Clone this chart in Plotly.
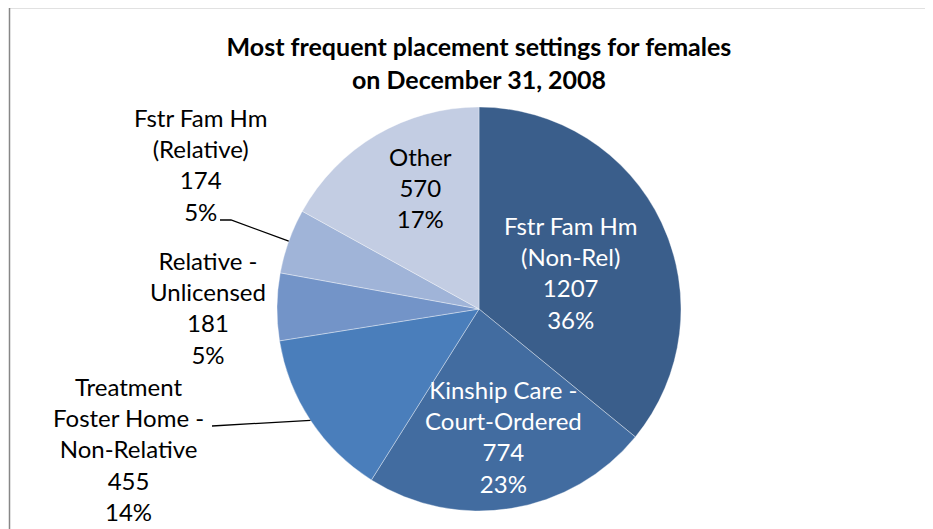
import math
import plotly.graph_objects as go

categories = ["Fstr Fam Hm<br>(Non-Rel)", "Kinship Care -<br>Court-Ordered",
              "Treatment<br>Foster Home -<br>Non-Relative", "Relative -<br>Unlicensed",
              "Fstr Fam Hm<br>(Relative)", "Other"]
values = [1207, 774, 455, 181, 174, 570]
colors = ["#3A5E8B", "#426CA0", "#4A7EBB", "#7394C8", "#A0B4D8", "#C3CDE3"]
text_colors = ["white", "white", "black", "black", "black", "black"]

OFF = 8                     # page body margin
W, H = 933 - OFF, 529 - OFF
CX, CY, R = 479, 309, 202   # pie centre / radius in window pixels

# label block centres (window pixels) - layout
label_pos = [(570, 272), (503, 436), (128, 449), (208, 307), (200, 165), (420, 187)]
# leader-line text anchors (window pixels) for outside labels
leaders = {2: [(212, 426)], 4: [(220, 220), (231, 220)]}


def px(x):
    return (x - OFF) / W


def py(y):
    return 1 - (y - OFF) / H


fig = go.Figure(go.Pie(
    labels=[c.replace("<br>", " ") for c in categories],
    values=values,
    sort=False,
    direction="clockwise",
    rotation=0,
    marker=dict(colors=colors, line=dict(color="rgba(255,255,255,0.6)", width=0.6)),
    textinfo="none",
    hoverinfo="label+value+percent",
    domain=dict(x=[px(CX - R), px(CX + R)], y=[py(CY + R), py(CY - R)]),
    showlegend=False,
))

total = sum(values)
annotations = []
shapes = []
cum = 0
for i, (cat, v) in enumerate(zip(categories, values)):
    mid = (cum + v / 2) / total * 2 * math.pi
    cum += v
    pct = round(v / total * 100)
    lx, ly = label_pos[i]
    annotations.append(dict(
        x=px(lx), y=py(ly), xref="paper", yref="paper",
        text=f"{cat}<br>{v}<br>{pct}%", showarrow=False,
        font=dict(family="Lato", size=24, color=text_colors[i]),
        align="center", xanchor="center", yanchor="middle",
    ))
    if i in leaders:
        ex = CX + R * math.sin(mid)
        ey = CY - R * math.cos(mid)
        pts = leaders[i] + [(ex, ey)]
        path = "M " + " L ".join(f"{px(a)},{py(b)}" for a, b in pts)
        shapes.append(dict(type="path", xref="paper", yref="paper", path=path,
                           line=dict(color="black", width=1.3)))

# chart frame (right and bottom edges fall outside the picture)
shapes.append(dict(type="rect", xref="paper", yref="paper",
                   x0=px(9.5), y0=py(7.5), x1=px(980), y1=py(580),
                   line=dict(color="#878787", width=1.5), fillcolor="rgba(0,0,0,0)"))

fig.update_layout(
    width=W, height=H,
    margin=dict(l=0, r=0, t=0, b=0),
    paper_bgcolor="white",
    title=dict(text="<b>Most frequent placement settings for females<br>on December 31, 2008</b>",
               x=px(479), xanchor="center", y=py(56), yanchor="top",
               font=dict(family="Lato", size=25, color="black")),
    annotations=annotations,
    shapes=shapes,
)

fig.write_html("out.html")
